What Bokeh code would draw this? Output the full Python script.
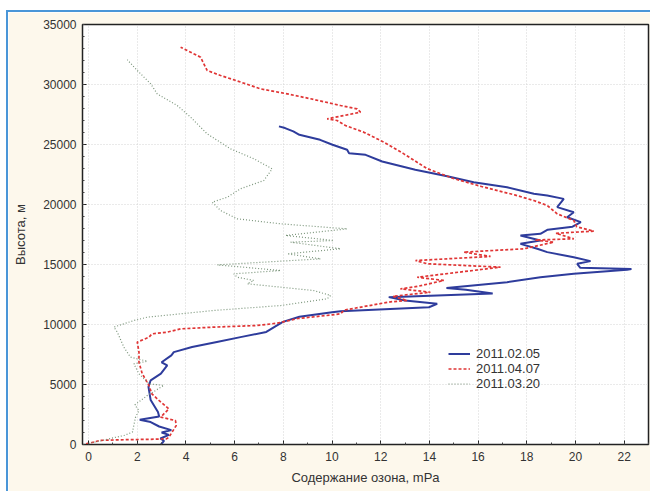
from bokeh.plotting import figure
from bokeh.models import FixedTicker, Legend, LegendItem
from bokeh.embed import file_html
from bokeh.resources import INLINE

# ---- data ----
# 2011.02.05  (x = ozone, mPa ; h = altitude, m)
blue_x = [2.97, 3.1, 2.95, 3.3, 3.0, 3.4, 2.9, 2.55, 2.1, 2.9, 2.85, 2.55, 2.46, 2.55, 2.97,
          3.23, 3.0, 3.4, 3.5, 4.25, 5.27, 6.29, 7.3, 7.98, 8.66, 10.0, 10.35, 13.98, 14.32,
          13.0, 12.33, 16.6, 15.5, 14.7, 17.19, 18.56, 19.93, 22.12, 22.3, 20.2, 20.07,
          20.62, 19.93, 18.84, 18.43, 17.74, 18.56, 17.74, 18.56, 18.86, 19.88, 20.22, 19.66,
          19.93, 19.25, 19.52, 18.84, 18.29, 17.19, 15.82, 14.78, 13.42, 12.06, 11.38, 10.7,
          10.62, 10.02, 9.51, 8.66, 8.41, 8.07, 7.82]
blue_h = [0, 300, 500, 800, 1000, 1200, 1500, 1870, 2060, 2340, 2700, 3700, 4800, 5350, 5900,
          6600, 6850, 7430, 7700, 8130, 8550, 8970, 9380, 10220, 10640, 11030, 11100, 11440,
          11720, 12000, 12280, 12580, 12900, 13050, 13530, 13940, 14220, 14560, 14620, 14720,
          15060, 15280, 15610, 16030, 16310, 16720, 17000, 17420, 17560, 17900, 18150, 18530,
          18940, 19360, 19780, 20470, 20750, 20890, 21440, 21860, 22330, 22890, 23580, 24140,
          24280, 24560, 24980, 25390, 25810, 26090, 26370, 26510]

# 2011.04.07
red_x = [-0.1, 0.5, 1.5, 2.5, 3.2, 3.3, 3.6, 3.57, 2.96, 3.3, 2.89, 2.6, 2.48, 2.2, 2.07, 2.07,
         2.0, 2.48, 2.6, 3.23, 3.78, 5.15, 6.93, 7.75, 8.6, 10.0, 10.35, 10.5, 12.4, 13.09,
         12.5, 14.04, 12.81, 13.5, 14.59, 13.5, 16.92, 13.91, 13.43, 16.51, 15.41, 17.88,
         19.11, 18.35, 19.93, 19.2, 20.75, 20.05, 19.93, 19.25, 18.84, 18.29, 17.5, 16.14,
         14.95, 13.9, 12.95, 12.13, 11.3, 10.55, 10.21, 9.8, 11.17, 11.03, 10.35, 9.12, 8.16,
         7.06, 5.97, 5.42, 4.87, 4.6, 3.78]
red_h = [50, 350, 400, 430, 470, 610, 1580, 2000, 2280, 2970, 3670, 4220, 4920, 5920, 6860,
         7700, 8530, 8940, 9220, 9360, 9640, 9780, 9920, 10110, 10500, 10800, 10890, 11200,
         11890, 12000, 12350, 12690, 12970, 13170, 13670, 13940, 14780, 15060, 15330, 15670,
         16030, 16310, 16860, 17040, 17140, 17600, 17780, 18150, 18670, 19220, 19920, 20330,
         20800, 21500, 22190, 23000, 24220, 25190, 26030, 26580, 27000, 27140, 27690, 27970,
         28250, 28810, 29220, 29640, 30390, 30750, 31170, 32280, 33110]

# 2011.03.20
green_x = [0.0, 0.5, 1.0, 1.45, 1.8, 1.93, 2.07, 1.9, 2.41, 3.09, 2.48, 2.07, 1.86, 2.41, 1.72,
           1.45, 1.18, 1.04, 1.45, 1.86, 2.41, 5.15, 7.89, 9.8, 9.94, 9.25, 7.89, 6.52, 6.79,
           6.1, 5.97, 7.89, 5.29, 9.53, 8.16, 10.35, 8.3, 10.07, 8.09, 10.62, 7.89, 6.1, 5.42,
           5.08, 5.7, 6.24, 7.2, 7.54, 6.79, 5.83, 4.87, 4.19, 3.64, 2.82, 2.55, 2.0, 1.59]
green_h = [100, 300, 550, 750, 1030, 2280, 2830, 3300, 4080, 4920, 5060, 5890, 6720, 6940,
           7280, 8110, 9360, 9780, 10060, 10330, 10610, 11170, 11580, 12140, 12420, 12830,
           13110, 13390, 13670, 13940, 14220, 14500, 14970, 15470, 15890, 16310, 16860, 17000,
           17420, 17970, 18390, 18810, 19500, 20190, 20610, 21310, 22000, 22970, 23810, 24640,
           25890, 27280, 28250, 29220, 30060, 31170, 32060]

labels = ["2011.02.05", "2011.04.07", "2011.03.20"]
x_ticks = list(range(0, 23, 2))
y_ticks = list(range(0, 35001, 5000))

FONT = "Liberation Sans"
TXT = "#333333"

p = figure(width=642, height=479, output_backend="svg", toolbar_location=None,
           x_range=(-0.25, 23.0), y_range=(0, 35000),
           min_border_left=74, min_border_right=2, min_border_top=12, min_border_bottom=47,
           background_fill_color="white", border_fill_color="#fdf8ec")
p.margin = (12, 0, 0, 8)
p.styles = {"outline": "2px solid #4a96d8"}
p.outline_line_color = "#222222"
p.outline_line_width = 1.5

xt = FixedTicker(ticks=x_ticks, minor_ticks=list(range(0, 24)))
yt = FixedTicker(ticks=y_ticks, minor_ticks=list(range(0, 35001, 1000)))

for ax in p.xaxis + p.yaxis:
    ax.major_label_text_font = FONT
    ax.major_label_text_font_size = "12px"
    ax.major_label_text_color = TXT
    ax.axis_label_text_font = FONT
    ax.axis_label_text_font_size = "13px"
    ax.axis_label_text_font_style = "normal"
    ax.axis_label_text_color = TXT
    ax.major_tick_in = 4
    ax.major_tick_out = 0
    ax.minor_tick_in = 2
    ax.minor_tick_out = 0
    ax.axis_line_color = "#222222"
    ax.major_tick_line_color = "#222222"
    ax.minor_tick_line_color = "#444444"

p.xaxis.ticker = xt
p.yaxis.ticker = yt
p.xaxis.axis_label = "Содержание озона, mPa"
p.yaxis.axis_label = "Высота, м"
p.xaxis.major_label_standoff = 7
p.xaxis.axis_label_standoff = 6
p.yaxis.major_label_standoff = 6
p.yaxis.axis_label_standoff = 12

p.xgrid.ticker = xt
p.ygrid.ticker = yt
for g in (p.xgrid[0], p.ygrid[0]):
    g.grid_line_color = "#d4d4d4"
    g.grid_line_dash = "1 2"
    g.grid_line_width = 1

r_blue = p.line(blue_x, blue_h, line_color="#2e3c9c", line_width=2)
r_red = p.line(red_x, red_h, line_color="#e03535", line_width=1.7, line_dash="3 2")
r_green = p.line(green_x, green_h, line_color="#7b957b", line_width=1.2, line_dash="1 2")

leg = Legend(items=[LegendItem(label=labels[0], renderers=[r_blue]),
                    LegendItem(label=labels[1], renderers=[r_red]),
                    LegendItem(label=labels[2], renderers=[r_green])],
             location=(366, 53), background_fill_alpha=0, border_line_alpha=0,
             label_text_font=FONT, label_text_font_size="13px", label_text_color=TXT,
             glyph_width=22, glyph_height=13, label_height=13, label_standoff=6,
             spacing=0, padding=0, margin=0)
p.add_layout(leg, "center")

open("out.html", "w").write(file_html(p, INLINE))
